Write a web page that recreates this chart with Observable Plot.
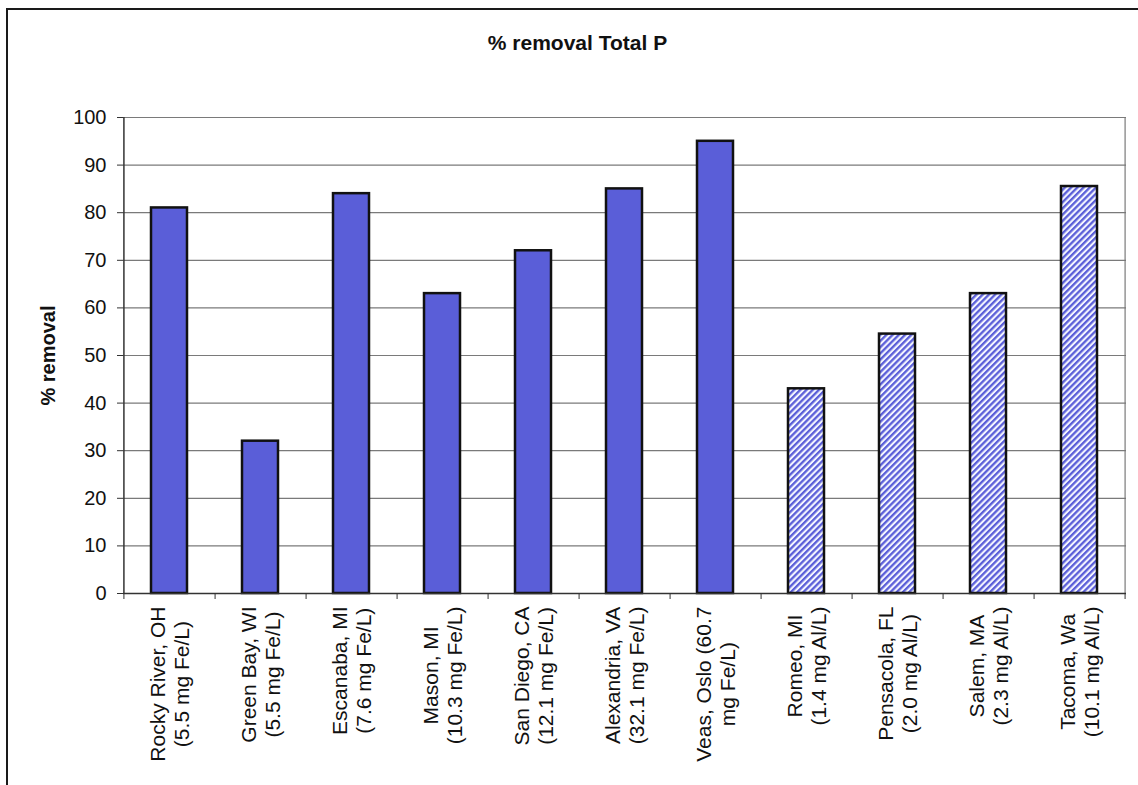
<!DOCTYPE html>
<html><head><meta charset="utf-8">
<script src="https://cdn.jsdelivr.net/npm/d3@7"></script>
<script src="https://cdn.jsdelivr.net/npm/@observablehq/plot@0.6"></script>
<style>
html,body{margin:0;padding:0;background:#fff;overflow:hidden;}
#wrap{position:relative;width:1138px;height:785px;font-family:"Liberation Sans",Arial,sans-serif;}
#border{position:absolute;left:6px;top:8px;width:1200px;height:900px;border-left:2.5px solid #1a1a1a;border-top:2.5px solid #1a1a1a;}
#title{position:absolute;left:0;top:31px;width:1155px;text-align:center;font-weight:bold;font-size:21px;line-height:24px;color:#111;}
#chart{position:absolute;left:0;top:0;}
</style></head><body>
<div id="wrap"><div id="border"></div><div id="title">% removal Total P</div><div id="chart"></div></div>
<script>
const sites = ["Rocky River, OH","Green Bay, WI","Escanaba, MI","Mason, MI","San Diego, CA","Alexandria, VA","Veas, Oslo (60.7","Romeo, MI","Pensacola, FL","Salem, MA","Tacoma, Wa"];
const doses = ["(5.5 mg Fe/L)","(5.5 mg Fe/L)","(7.6 mg Fe/L)","(10.3 mg Fe/L)","(12.1 mg Fe/L)","(32.1 mg Fe/L)","mg Fe/L)","(1.4 mg Al/L)","(2.0 mg Al/L)","(2.3 mg Al/L)","(10.1 mg Al/L)"];
const removal = [81, 32, 84, 63, 72, 85, 95, 43, 54.5, 63, 85.5];
const coagulant = ["Fe","Fe","Fe","Fe","Fe","Fe","Fe","Al","Al","Al","Al"];
const yTicks = [0,10,20,30,40,50,60,70,80,90,100];
const yLabel = "% removal";

const data = sites.map((s,i)=>({label: s + "\n" + doses[i], value: removal[i], coag: coagulant[i]}));
const labels = data.map(d=>d.label);

const W=1138, H=785, ML=123, MR=12, MT=117, MB=192;
const step = (W-ML-MR)/labels.length;
const solid = "#5a5ed8";

const defs = () => {
  const d = d3.create("svg:defs");
  const p = d.append("pattern").attr("id","hatch").attr("patternUnits","userSpaceOnUse")
    .attr("width",4.4).attr("height",4.4).attr("patternTransform","rotate(45)");
  p.append("rect").attr("width",4.4).attr("height",4.4).attr("fill","#f4f5ff");
  p.append("rect").attr("width",2.3).attr("height",4.4).attr("fill",solid);
  return d.node();
};

const chart = Plot.plot({
  width: W, height: H, marginLeft: ML, marginRight: MR, marginTop: MT, marginBottom: MB,
  style: {fontFamily: "Liberation Sans, Arial, sans-serif", fontSize: "20px", color: "#111", background: "transparent"},
  x: {domain: labels, paddingInner: 0.6, paddingOuter: 0.3, label: null},
  y: {domain: [0,100], label: null},
  marks: [
    defs,
    Plot.ruleY(yTicks, {stroke: "#7a7a7a", strokeWidth: 1.2}),
    Plot.ruleX([labels[labels.length-1]], {x: d=>d, dx: step/2, stroke: "#7a7a7a", strokeWidth: 1.2}),
    Plot.barY(data.filter(d=>d.coag==="Fe"), {x: "label", y: "value", fill: solid, stroke: "#111", strokeWidth: 2.5}),
    Plot.barY(data.filter(d=>d.coag==="Al"), {x: "label", y: "value", fill: "url(#hatch)", stroke: "#111", strokeWidth: 2.5}),
    Plot.ruleY([0], {stroke: "#333", strokeWidth: 1.5}),
    Plot.ruleX([labels[0]], {x: d=>d, dx: -step/2, stroke: "#333", strokeWidth: 1.5}),
    Plot.ruleX(labels, {x: d=>d, y1: 0, y2: 0, insetBottom: -6, dx: step/2, stroke: "#333"}),
    Plot.ruleX([labels[0]], {x: d=>d, y1: 0, y2: 0, insetBottom: -6, dx: -step/2, stroke: "#333"}),
    Plot.axisY({ticks: yTicks, tickSize: 6, tickPadding: 11, tickFormat: d=>d, stroke: "#333", fontSize: 20, label: null}),
    Plot.axisX({tickSize: 0, tickPadding: 13, rotate: -90, textAnchor: "end", lineAnchor: "middle", lineHeight: 1.12, fontSize: 21, label: null}),
    Plot.text([yLabel], {frameAnchor: "left", dx: -75, rotate: -90, textAnchor: "middle", lineAnchor: "middle", fontWeight: "bold", fontSize: 20})
  ]
});
document.getElementById("chart").appendChild(chart);

// center the lines of each rotated category label on each other
d3.select(chart).selectAll('g[aria-label="x-axis tick label"] text').each(function(){
  const spans = Array.from(this.querySelectorAll("tspan"));
  if (!spans.length) return;
  const lens = spans.map(s => s.getComputedTextLength());
  const m = Math.max(...lens);
  spans.forEach((s,i) => s.setAttribute("x", -(m - lens[i]) / 2));
});
</script>
</body></html>
